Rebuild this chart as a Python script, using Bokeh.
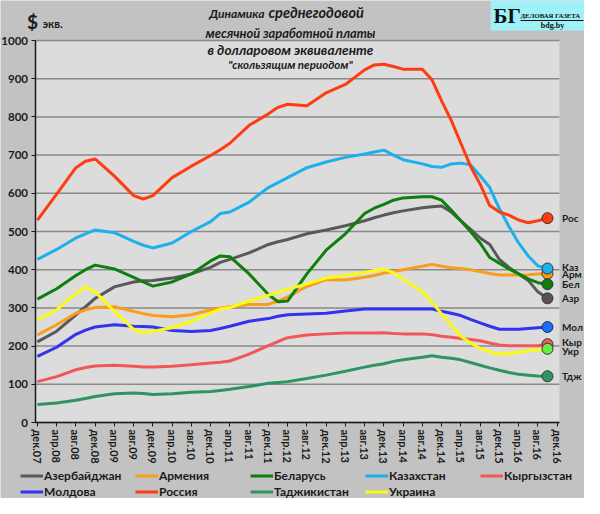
import numpy as np
from bokeh.plotting import figure
from bokeh.models import Range1d, FixedTicker, Legend, LegendItem, Label, BoxAnnotation
from bokeh.embed import file_html
from bokeh.resources import INLINE

# months counted from дек.07 (0) to дек.16 (108)
months = [0, 4, 8, 10, 12, 16, 20, 22, 24, 28, 32, 36, 38, 40, 44, 48, 50, 52, 56, 60,
          64, 68, 70, 72, 74, 76, 80, 82, 84, 86, 88, 90, 92, 94, 96, 98, 100, 102, 104, 106]

tick_months = list(range(0, 109, 4))
tick_labels = ["дек.07", "апр.08", "авг.08", "дек.08", "апр.09", "авг.09", "дек.09",
               "апр.10", "авг.10", "дек.10", "апр.11", "авг.11", "дек.11", "апр.12",
               "авг.12", "дек.12", "апр.13", "авг.13", "дек.13", "апр.14", "авг.14",
               "дек.14", "апр.15", "авг.15", "дек.15", "апр.16", "авг.16", "дек.16"]
y_ticks = [0, 100, 200, 300, 400, 500, 600, 700, 800, 900, 1000]

names = ["Азербайджан", "Армения", "Беларусь", "Казахстан", "Кыргызстан",
         "Молдова", "Россия", "Таджикистан", "Украина"]
short_names = ["Азр", "Арм", "Бел", "Каз", "Кыр", "Мол", "Рос", "Тдж", "Укр"]

azerbaijan = [211, 239, 282, 303, 325, 355, 368, 371, 372, 378, 389, 406, 419, 427, 444, 466, 473, 479, 494, 504,
              515, 528, 536, 543, 549, 554, 562, 565, 567, 551, 528, 506, 483, 466, 427, 406, 389, 372, 342, 325]
armenia = [229, 256, 286, 295, 301, 303, 291, 285, 280, 277, 282, 295, 299, 303, 309, 309, 318, 329, 356, 374,
           373, 380, 385, 391, 395, 400, 409, 414, 409, 405, 403, 400, 395, 390, 386, 386, 386, 387, 389, 390]
belarus = [323, 350, 385, 400, 412, 402, 380, 368, 357, 368, 389, 423, 436, 434, 389, 335, 316, 318, 389, 451,
           494, 547, 561, 571, 582, 588, 591, 591, 582, 556, 528, 500, 470, 432, 417, 402, 389, 376, 366, 362]
kazakhstan = [427, 453, 483, 494, 504, 497, 474, 464, 457, 470, 500, 526, 547, 551, 577, 615, 628, 641, 667, 682,
              694, 703, 708, 713, 700, 688, 677, 670, 668, 677, 679, 675, 646, 615, 560, 513, 470, 436, 410, 403]
kyrgyzstan = [107, 120, 138, 144, 148, 150, 147, 145, 145, 147, 151, 156, 158, 161, 179, 201, 212, 222, 229, 232,
              234, 234, 234, 235, 233, 232, 232, 230, 226, 223, 220, 217, 214, 208, 203, 201, 201, 201, 201, 205]
moldova = [173, 197, 231, 242, 250, 256, 252, 251, 250, 241, 238, 241, 246, 252, 265, 272, 278, 282, 284, 286,
           292, 297, 297, 297, 297, 297, 297, 297, 291, 286, 280, 270, 261, 252, 244, 244, 244, 246, 248, 250]
russia = [530, 598, 667, 684, 690, 645, 594, 585, 594, 641, 671, 699, 714, 731, 778, 808, 825, 833, 829, 863,
          885, 923, 936, 938, 932, 925, 925, 897, 842, 791, 731, 671, 624, 568, 551, 543, 530, 523, 528, 535]
tajikistan = [47, 51, 58, 63, 68, 75, 77, 76, 73, 75, 79, 81, 84, 87, 94, 103, 105, 107, 115, 124,
              134, 145, 150, 154, 160, 164, 171, 175, 171, 168, 164, 157, 150, 143, 137, 131, 126, 124, 122, 121]
ukraine = [269, 295, 338, 355, 342, 291, 244, 235, 239, 248, 265, 286, 297, 301, 318, 333, 341, 349, 363, 378,
           385, 393, 398, 402, 392, 375, 342, 315, 284, 255, 226, 208, 194, 185, 178, 181, 184, 187, 190, 193]

series = [azerbaijan, armenia, belarus, kazakhstan, kyrgyzstan, moldova, russia, tajikistan, ukraine]
line_colors = ["#595959", "#f99d1c", "#0d7f0d", "#1db0ec", "#f25757", "#3333ee", "#ff3b12", "#2e9464", "#fafa14"]
marker_colors = ["#555555", "#f99d1c", "#0d7f0d", "#1db0ec", "#f25757", "#1a6cff", "#ff3b12", "#2e9464", "#66ee44"]
label_nudge = [0, -1, 0, 3, 5, 0, 0, 0, -5]

FONT = "Lato"
TXT = "#1a1a1a"

# the frame covers the whole canvas; the plot area (-0.5..108.5 x 0..1000) sits inside it
W, H = 584, 498
PX0, PX1 = 34.5, 559.0      # pixel x of month -0.5 and 108.5
PY1000, PY0 = 40.0, 422.0   # pixel y of 1000 and 0
sx = (PX1 - PX0) / 109.0
sy = (PY0 - PY1000) / 1000.0
x_lo = -0.5 - PX0 / sx
x_hi = x_lo + W / sx
y_hi = 1000 + PY1000 / sy
y_lo = y_hi - H / sy


def fx(px):
    return x_lo + px / sx


def fy(py):
    return y_hi - py / sy


p = figure(width=W, height=H, x_range=Range1d(x_lo, x_hi), y_range=Range1d(y_lo, y_hi),
           output_backend="svg", toolbar_location=None,
           min_border_left=0, min_border_right=0, min_border_top=0, min_border_bottom=0)
p.border_fill_color = "#c2c2c2"
p.background_fill_color = "#c2c2c2"
p.outline_line_color = None
p.xgrid.grid_line_color = None
p.ygrid.grid_line_color = None

# plot area and grid lines
p.add_layout(BoxAnnotation(left=-0.5, right=108.5, bottom=0, top=1000, fill_color="#dcdcdc",
                           fill_alpha=1, line_color=None, level="underlay"))
p.segment(x0=[-0.5] * len(y_ticks), x1=[108.5] * len(y_ticks), y0=y_ticks, y1=y_ticks,
          line_color="#8a8a8a", line_width=1.5)

p.yaxis.ticker = FixedTicker(ticks=y_ticks)
p.yaxis.fixed_location = -0.5
p.yaxis.bounds = (0, 1000)
p.xaxis.ticker = FixedTicker(ticks=tick_months)
p.xaxis.fixed_location = 0
p.xaxis.bounds = (-0.5, 108.5)
p.xaxis.major_label_overrides = {m: lab for m, lab in zip(tick_months, tick_labels)}
p.xaxis.major_label_orientation = "vertical"
for ax in (p.xaxis, p.yaxis):
    ax.axis_line_color = TXT
    ax.axis_line_width = 1.5
    ax.major_tick_line_color = TXT
    ax.major_tick_out = 4
    ax.major_tick_in = 0
    ax.minor_tick_line_color = None
    ax.major_label_standoff = 3
    ax.major_label_text_font = FONT
    ax.major_label_text_font_style = "bold"
    ax.major_label_text_color = TXT
p.yaxis.major_label_text_font_size = "11.5px"
p.xaxis.major_label_text_font_size = "11px"

items = []
for name, vals, col in zip(names, series, line_colors):
    r = p.line(months, vals, line_color=col, line_width=3)
    items.append(LegendItem(label=name, renderers=[r]))

p.scatter([months[-1]] * len(series), [s[-1] for s in series], size=11,
          fill_color=marker_colors, line_color="#333333", line_width=1)

# short names at the right end
for sn, vals, dy in zip(short_names, series, label_nudge):
    p.add_layout(Label(x=fx(561.5), y=vals[-1] + dy, text=sn, text_baseline="middle",
                       text_font=FONT, text_font_style="bold", text_font_size="10px",
                       text_color=TXT))

# legend: two rows below the x axis labels
legend_style = dict(orientation="horizontal", glyph_width=23, glyph_height=17,
                    label_standoff=1, label_width=91, label_height=17, spacing=0,
                    padding=0, margin=0, label_text_font=FONT, label_text_font_style="bold",
                    label_text_font_size="12px", label_text_color=TXT,
                    border_line_alpha=0, background_fill_alpha=0)
p.add_layout(Legend(items=items[:5], location=(20, 14), **legend_style))
p.add_layout(Legend(items=items[5:], location=(20, -2), **legend_style))

# title
title_style = dict(text_baseline="middle", text_font=FONT, text_font_style="bold italic",
                   text_color=TXT)
p.add_layout(Label(x=fx(264), y=fy(13), text="Динамика", text_align="right",
                   text_font_size="12px", **title_style))
p.add_layout(Label(x=fx(268), y=fy(12), text="среднегодовой", text_align="left",
                   text_font_size="14.5px", **title_style))
title_lines = [("месячной заработной платы", 32, "12.8px"),
               ("в долларовом эквиваленте", 49, "13.6px"),
               ("\"скользящим периодом\"", 64, "11.5px")]
for txt, py, fs in title_lines:
    p.add_layout(Label(x=fx(290), y=fy(py), text=txt, text_align="center",
                       text_font_size=fs, **title_style))

p.add_layout(Label(x=fx(32), y=fy(21), text="$", text_align="center", text_baseline="middle",
                   text_font=FONT, text_font_style="bold", text_font_size="19px", text_color=TXT))
p.add_layout(Label(x=fx(42), y=fy(23), text="экв.", text_baseline="middle",
                   text_font=FONT, text_font_style="bold", text_font_size="11.5px", text_color=TXT))

# logo
p.add_layout(BoxAnnotation(left=fx(490), right=x_hi, top=y_hi, bottom=fy(30),
                           fill_color="#9ff0f7", fill_alpha=1, line_color=None))
p.add_layout(Label(x=fx(493), y=fy(15), text="БГ", text_baseline="middle",
                   text_font="Liberation Serif", text_font_style="bold", text_font_size="21px",
                   text_color="#111111"))
p.add_layout(Label(x=fx(520), y=fy(15), text="ДЕЛОВАЯ ГАЗЕТА", text_baseline="middle",
                   text_font="Liberation Serif", text_font_style="bold", text_font_size="6.7px",
                   text_color="#111111"))
p.add_layout(BoxAnnotation(left=fx(520), right=fx(583), top=fy(19.5), bottom=fy(20.5),
                           fill_color="#111111", fill_alpha=1, line_color=None))
p.add_layout(Label(x=fx(552), y=fy(25), text="bdg.by", text_align="center", text_baseline="middle",
                   text_font="Liberation Serif", text_font_style="bold", text_font_size="8px",
                   text_color="#111111"))

open("out.html", "w").write(file_html(p, INLINE))
